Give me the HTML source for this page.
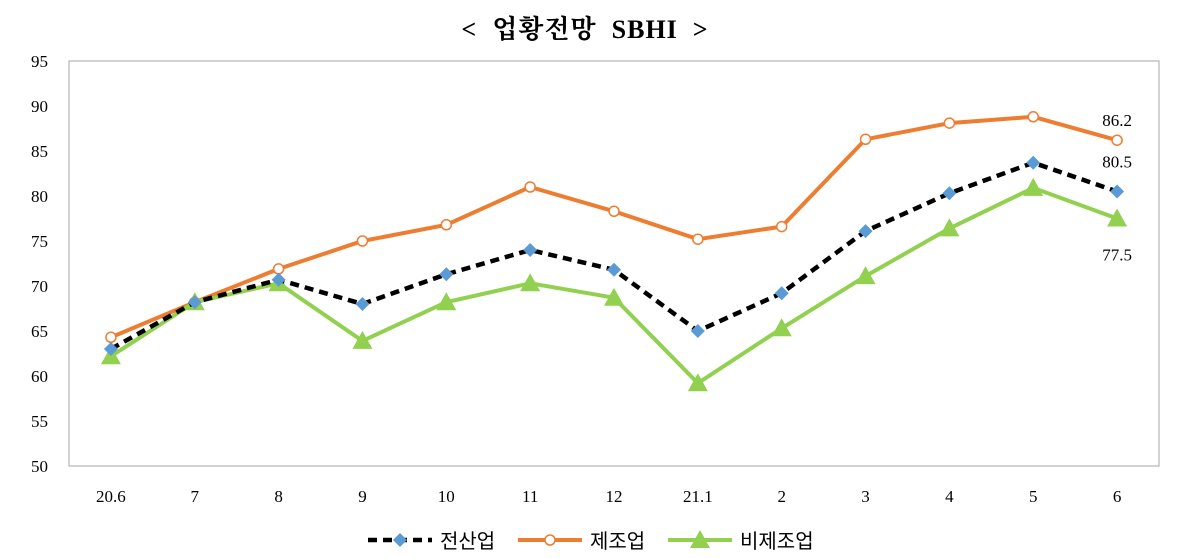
<!DOCTYPE html>
<html><head><meta charset="utf-8"><style>
body{margin:0;background:#fff;}
svg{display:block;font-family:"Liberation Serif","Noto Serif CJK SC",serif;}
</style></head><body>
<svg id="chart" width="1200" height="558">
<text x="585" y="38" text-anchor="middle" font-size="26" font-weight="bold" letter-spacing="1" fill="#000" xml:space="preserve">&lt;  업황전망  SBHI  &gt;</text>
<g id="grid"></g><g id="series"></g><g id="legend"></g>
</svg>
<script>
const categories=["20.6","7","8","9","10","11","12","21.1","2","3","4","5","6"];
const totalVals=[63.0,68.2,70.7,68.0,71.3,74.0,71.8,65.0,69.2,76.1,80.3,83.7,80.5];
const mfgVals=[64.3,68.2,71.9,75.0,76.8,81.0,78.3,75.2,76.6,86.3,88.1,88.8,86.2];
const nonMfgVals=[62.2,68.2,70.3,63.9,68.2,70.3,68.7,59.2,65.3,71.1,76.4,80.9,77.5];
const yTicks=[50,55,60,65,70,75,80,85,90,95];
const ns="http://www.w3.org/2000/svg";
const L=69,R=1159,T=61,B=466,yMin=50,yMax=95;
const xs=i=>L+(R-L)/categories.length*(i+0.5);
const ys=v=>B-(v-yMin)/(yMax-yMin)*(B-T);
function mk(tag,attrs,parent){const e=document.createElementNS(ns,tag);for(const k in attrs)e.setAttribute(k,attrs[k]);parent.appendChild(e);return e;}
const grid=document.getElementById('grid'),ser=document.getElementById('series'),leg=document.getElementById('legend');
const fr=mk('rect',{x:L,y:T,width:R-L,height:B-T,fill:'none',stroke:'#bbb','stroke-width':1.3},grid);


yTicks.forEach(v=>{const t=mk('text',{x:48,y:ys(v)+6,'text-anchor':'end','font-size':17},grid);t.textContent=v;

});
categories.forEach((c,i)=>{const t=mk('text',{x:xs(i),y:502,'text-anchor':'middle','font-size':17},grid);t.textContent=c;

});
function pts(a){return a.map((v,i)=>xs(i)+','+ys(v)).join(' ');}
function tri(x,y,s){return `${x},${y-s} ${x-s},${y+s*0.8} ${x+s},${y+s*0.8}`;}
let p=mk('polyline',{points:pts(mfgVals),fill:'none',stroke:'#ed7d31','stroke-width':4},ser);


mfgVals.forEach((v,i)=>{const c=mk('circle',{cx:xs(i),cy:ys(v),r:5,fill:'#fff',stroke:'#ed7d31','stroke-width':1.5},ser);

});
p=mk('polyline',{points:pts(nonMfgVals),fill:'none',stroke:'#92d050','stroke-width':4},ser);


nonMfgVals.forEach((v,i)=>{const c=mk('polygon',{points:tri(xs(i),ys(v),10),fill:'#92d050'},ser);

});
p=mk('polyline',{points:pts(totalVals),fill:'none',stroke:'#000','stroke-width':4.5,'stroke-dasharray':'9,6'},ser);


totalVals.forEach((v,i)=>{const x=xs(i),y=ys(v);const c=mk('polygon',{points:`${x},${y-7} ${x+7},${y} ${x},${y+7} ${x-7},${y}`,fill:'#5b9bd5'},ser);

});
const n=categories.length-1;
[[mfgVals[n],-14],[totalVals[n],-24],[nonMfgVals[n],42]].forEach(([v,d])=>{const t=mk('text',{x:xs(n),y:ys(v)+d,'text-anchor':'middle','font-size':17},ser);t.textContent=v.toFixed(1);

});
function legItem(x,name,txt,draw){const g=mk('g',{},leg);draw(g);const t=mk('text',{x:x+72,y:548,'font-size':20,'font-family':'"Liberation Sans","Noto Sans CJK KR",sans-serif'},g);t.textContent=txt;}
legItem(368,'legend-total','전산업',g=>{mk('line',{x1:368,y1:540,x2:432,y2:540,stroke:'#000','stroke-width':4.5,'stroke-dasharray':'9,6'},g);mk('polygon',{points:'400,533 407,540 400,547 393,540',fill:'#5b9bd5'},g);});
legItem(518,'legend-mfg','제조업',g=>{mk('line',{x1:518,y1:540,x2:582,y2:540,stroke:'#ed7d31','stroke-width':4},g);mk('circle',{cx:550,cy:540,r:5,fill:'#fff',stroke:'#ed7d31','stroke-width':1.5},g);});
legItem(668,'legend-nonmfg','비제조업',g=>{mk('line',{x1:668,y1:540,x2:732,y2:540,stroke:'#92d050','stroke-width':4},g);mk('polygon',{points:tri(700,540,10),fill:'#92d050'},g);});
</script>
</body></html>
